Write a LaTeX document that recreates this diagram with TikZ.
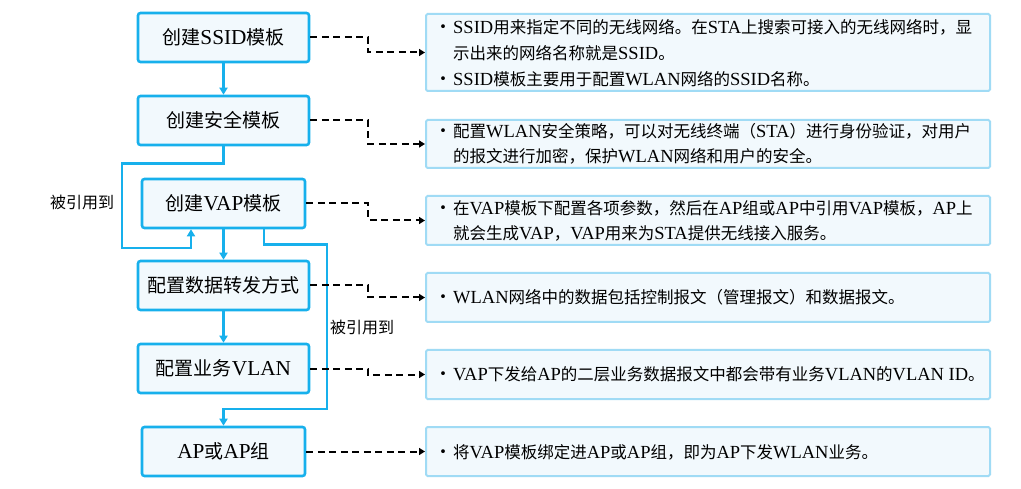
\documentclass[tikz,border=0pt]{standalone}
\usepackage{fontspec}
\setmainfont{Noto Sans CJK SC}
\newfontfamily\en[Scale=1.12]{Liberation Serif}
\newcommand\E[1]{{\en #1}}
\usetikzlibrary{arrows.meta}
\definecolor{lb}{HTML}{17B0EC}
\definecolor{bfill}{HTML}{F2F9FD}
\definecolor{rb}{HTML}{A0DBF5}
\begin{document}
\begin{tikzpicture}[x=1pt,y=-1pt,
  lbox/.style={draw=lb,line width=2.6pt,fill=bfill,rounded corners=2.5pt,minimum width=171pt,minimum height=49pt,inner sep=0pt,font=\fontsize{19}{22}\selectfont},
  rbox/.style={draw=rb,line width=2pt,fill=bfill,rounded corners=1.5pt,minimum width=564pt,inner sep=0pt},
  rt/.style={anchor=base west,inner sep=0pt,font=\fontsize{16.5}{20}\selectfont},
  bul/.style={anchor=base west,inner sep=0pt,font=\fontsize{18}{20}\selectfont},
  flow/.style={draw=lb,line width=2.8pt,-{Triangle[length=7pt,width=8pt]}},
  dashline/.style={draw=black,line width=2pt,dash pattern=on 7pt off 4.5pt,-{Triangle[length=6pt,width=7pt]}},
  lab/.style={inner sep=0pt,font=\fontsize{16}{19}\selectfont}]
\useasboundingbox (0,0) rectangle (1021,489);
\fill[white] (0,0) rectangle (1021,489);

% left boxes
\node[lbox] (b1) at (223.5,37.5) {创建\E{SSID}模板};
\node[lbox] (b2) at (223.5,120.5) {创建安全模板};
\node[lbox,minimum width=163pt] (b3) at (223.5,203.5) {创建\E{VAP}模板};
\node[lbox] (b4) at (223.5,285.5) {配置数据转发方式};
\node[lbox] (b5) at (223.5,368.5) {配置业务\E{VLAN}};
\node[lbox,minimum width=163pt] (b6) at (223.5,451.5) {\E{AP}或\E{AP}组};

% right boxes
\node[rbox,minimum height=77pt] (r1) at (708,52.5) {};
\node[rbox,minimum height=48pt] (r2) at (708,144) {};
\node[rbox,minimum height=49pt] (r3) at (708,220.5) {};
\node[rbox,minimum height=49pt] (r4) at (708,297.5) {};
\node[rbox,minimum height=49pt] (r5) at (708,374.5) {};
\node[rbox,minimum height=49pt] (r6) at (708,451.5) {};

% right texts
\node[bul] (p1) at (434,34) {•};
\node[rt] (t1a) at (453,34) {\E{SSID}用来指定不同的无线网络。在\E{STA}上搜索可接入的无线网络时，显};
\node[rt] (t1b) at (453,60) {示出来的网络名称就是\E{SSID}。};
\node[bul] (p2) at (434,86) {•};
\node[rt] (t1c) at (453,86) {\E{SSID}模板主要用于配置\E{WLAN}网络的\E{SSID}名称。};

\node[bul] (p3) at (434,138) {•};
\node[rt] (t2a) at (453,138) {配置\E{WLAN}安全策略，可以对无线终端（\E{STA}）进行身份验证，对用户};
\node[rt] (t2b) at (453,163) {的报文进行加密，保护\E{WLAN}网络和用户的安全。};

\node[bul] (p4) at (434,215) {•};
\node[rt] (t3a) at (453,215) {在\E{VAP}模板下配置各项参数，然后在\E{AP}组或\E{AP}中引用\E{VAP}模板，\E{AP}上};
\node[rt] (t3b) at (453,240) {就会生成\E{VAP}，\E{VAP}用来为\E{STA}提供无线接入服务。};

\node[bul] (p5) at (434,304) {•};
\node[rt] (t4) at (453,304) {\E{WLAN}网络中的数据包括控制报文（管理报文）和数据报文。};

\node[bul] (p6) at (434,381) {•};
\node[rt] (t5) at (453,381) {\E{VAP}下发给\E{AP}的二层业务数据报文中都会带有业务\E{VLAN}的\E{VLAN ID}。};

\node[bul] (p7) at (434,458) {•};
\node[rt] (t6) at (453,458) {将\E{VAP}模板绑定进\E{AP}或\E{AP}组，即为\E{AP}下发\E{WLAN}业务。};

% labels
\node[lab] (l1) at (82,202) {被引用到};
\node[lab] (l2) at (362,327) {被引用到};

% blue flow
\draw[flow] (b1.south) -- (b2.north);
\draw[flow] (b2.south) -- ++(0,17) -| (122,248) -| ([xshift=-32.5pt]b3.south);
\draw[flow] (b3.south) -- (b4.north);
\draw[flow] ([xshift=40.5pt]b3.south) -- ++(0,15) -| (327,409) -| (b6.north);
\draw[flow] (b4.south) -- (b5.north);

% dashed connectors
\draw[dashline] (b1.east) -- ++(58,0) |- (r1.west);
\draw[dashline] (b2.east) -- ++(58,0) |- (r2.west);
\draw[dashline] (b3.east) -- ++(62,0) |- (r3.west);
\draw[dashline] (b4.east) -- ++(58,0) |- (r4.west);
\draw[dashline] (b5.east) -- ++(58,0) |- (r5.west);
\draw[dashline] (b6.east) -- (r6.west);
\end{tikzpicture}
\end{document}
